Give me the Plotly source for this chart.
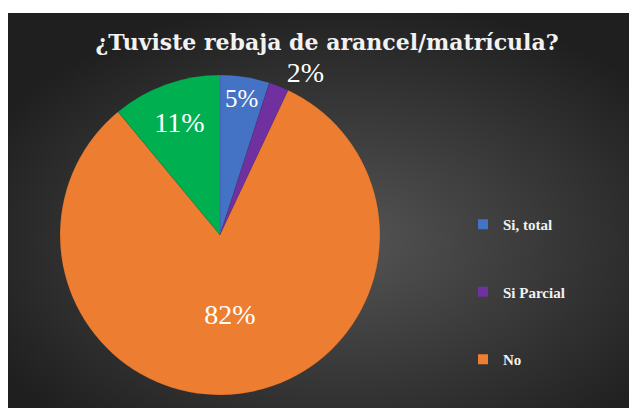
import base64
import plotly.graph_objects as go

categories = ["Si, total", "Si Parcial", "No", " "]
values = [5, 2, 82, 11]
colors = ["#4472C4", "#7030A0", "#ED7D31", "#00B050"]
legend_items = ["Si, total", "Si Parcial", "No"]
text_positions = ["inside", "outside", "inside", "inside"]

W, H = 637, 408
OX, OY = 8, 8  # page body margin offset


def px(x):
    return (x - OX) / W


def py(y):
    return 1 - (y - OY) / H


svg = (
    "<svg xmlns='http://www.w3.org/2000/svg' width='629' height='395' preserveAspectRatio='none'>"
    "<defs><radialGradient id='g' cx='52%' cy='58%' r='62%'>"
    "<stop offset='0' stop-color='#555555'/><stop offset='1' stop-color='#1f1f1f'/>"
    "</radialGradient></defs><rect width='100%' height='100%' fill='url(#g)'/></svg>"
)
bg_uri = "data:image/svg+xml;base64," + base64.b64encode(svg.encode()).decode()

fig = go.Figure()
fig.add_trace(go.Pie(
    labels=categories, values=values, sort=False, direction="clockwise", rotation=0,
    marker=dict(colors=colors, line=dict(color="rgba(0,0,0,0.15)", width=0.5)),
    textinfo="percent", textposition=text_positions, insidetextorientation="horizontal",
    insidetextfont=dict(family="Liberation Serif", size=28, color="white"),
    outsidetextfont=dict(family="Liberation Serif", size=28, color="white"),
    showlegend=False, hoverinfo="label+percent",
    domain=dict(x=[px(60), px(380)], y=[py(395), py(75)]),
))
for name in legend_items:
    c = colors[categories.index(name)]
    fig.add_trace(go.Scatter(
        x=[None], y=[None], mode="markers", name="<b>" + name + "</b>", legendgroup=name,
        marker=dict(symbol="square", size=10, color=c),
    ))

fig.update_layout(
    width=W, height=H, margin=dict(l=0, r=0, t=0, b=0),
    paper_bgcolor="white", plot_bgcolor="rgba(0,0,0,0)",
    xaxis=dict(visible=False), yaxis=dict(visible=False),
    images=[dict(source=bg_uri, xref="paper", yref="paper", x=0, y=py(13),
                 sizex=1, sizey=(408 - 13) / H, sizing="stretch",
                 xanchor="left", yanchor="top", layer="below")],
    title=dict(text="<b>¿Tuviste rebaja de arancel/matrícula?</b>", x=px(327), xanchor="center",
               y=py(42), yanchor="middle",
               font=dict(family="DejaVu Serif", size=22, color="#F2F2F2")),
    legend=dict(x=px(463), y=py(208), xanchor="left", yanchor="top",
                bgcolor="rgba(0,0,0,0)", tracegroupgap=45, itemwidth=30,
                font=dict(family="Liberation Serif", size=15, color="#F2F2F2")),
)
fig.write_html("out.html")
